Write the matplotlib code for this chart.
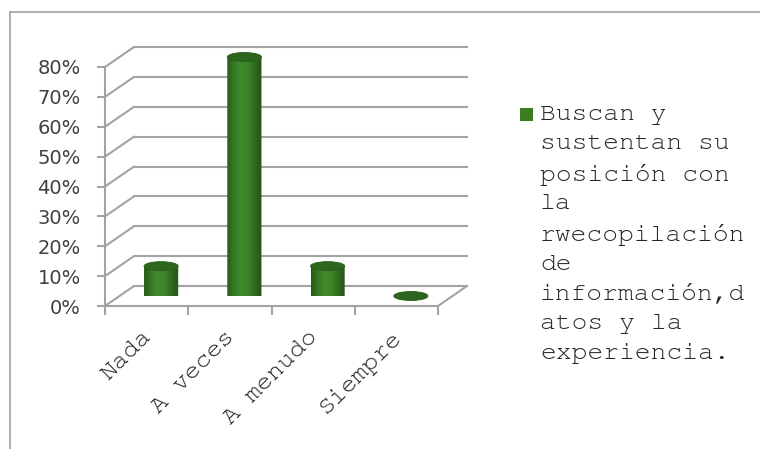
import numpy as np
import matplotlib
matplotlib.use('Agg')
import matplotlib.pyplot as plt
from matplotlib.patches import Ellipse, Rectangle, PathPatch, ConnectionPatch
from matplotlib.lines import Line2D
from matplotlib.path import Path
from matplotlib.colors import LinearSegmentedColormap
from matplotlib.transforms import ScaledTranslation

# data
categorias = ['Nada', 'A veces', 'A menudo', 'Siempre']
porcentajes = [10, 80, 10, 0]
ticks_y = [0, 10, 20, 30, 40, 50, 60, 70, 80]
etiquetas_y = [f'{t}%' for t in ticks_y]
serie = ('Buscan y\nsustentan su\nposición con\nla\nrwecopilación\nde\n'
         'información,d\natos y la\nexperiencia.')

mono = ['FreeMono', 'Liberation Mono', 'DejaVu Sans Mono']

W, H = 760, 449
fig = plt.figure(figsize=(W / 100, H / 100), dpi=100)

gris = '#a3a3a3'
x0, y0, ancho, alto = 105, 143, 333, 239   # front plane, pixels
dx, dy = 29, 20                              # depth offset, pixels


def plano(k, z):
    a = fig.add_axes([(x0 + k * dx) / W, (y0 + k * dy) / H, ancho / W, alto / H], zorder=z)
    a.set_xlim(0, len(categorias))
    a.set_ylim(0, 80)
    a.patch.set_visible(False)
    return a


ax_back = plano(1, 0)
ax = plano(0, 1)
ax_mid = plano(0.5, 2)

# back wall gridlines
ax_back.axis('off')
for t in ticks_y:
    ax_back.plot([0, len(categorias)], [t, t], color=gris, lw=1.5, clip_on=False)
    cp = ConnectionPatch(xyA=(0, t), xyB=(0, t), coordsA='data', coordsB='data',
                         axesA=ax, axesB=ax_back, color=gris, lw=1.5)
    cp.set_annotation_clip(False)
    ax_back.add_artist(cp)
cp = ConnectionPatch(xyA=(len(categorias), 0), xyB=(len(categorias), 0), coordsA='data',
                     coordsB='data', axesA=ax, axesB=ax_back, color=gris, lw=1.5)
cp.set_annotation_clip(False)
ax_back.add_artist(cp)

# front axes
for s in ['top', 'right']:
    ax.spines[s].set_visible(False)
for s in ['left', 'bottom']:
    ax.spines[s].set_color(gris)
    ax.spines[s].set_linewidth(1.5)
ax.set_yticks(ticks_y, etiquetas_y)
ax.tick_params(axis='y', length=5.5, width=1.5, color=gris, pad=12,
               labelsize=14, labelcolor='#404040')
ax.set_xticks(range(len(categorias) + 1), [''] * (len(categorias) + 1))
ax.set_xticks([i + 0.5 for i in range(len(categorias))], categorias, minor=True)
ax.tick_params(axis='x', which='minor', length=0, pad=15)
ax.tick_params(axis='x', which='major', length=6.5, width=1.5, color=gris)
desplaza = ScaledTranslation(-5 / 100, 0, fig.dpi_scale_trans)
for lab in ax.get_xticklabels(minor=True):
    lab.set_rotation(45)
    lab.set_ha('right')
    lab.set_va('top')
    lab.set_rotation_mode('anchor')
    lab.set_fontfamily(mono)
    lab.set_fontsize(18.5)
    lab.set_color('#262626')
    lab.set_transform(lab.get_transform() + desplaza)

# cylinders
ax_mid.axis('off')
bw, eh = 0.41, 3.0
cmap = LinearSegmentedColormap.from_list(
    'cil', ['#285a19', '#377a24', '#418c2c', '#3c8328', '#2e6a1e', '#255418'])
grad = np.linspace(0, 1, 64).reshape(1, -1)
for i, v in enumerate(porcentajes):
    xc = i + 0.5
    if v > 0:
        t = np.linspace(np.pi, 2 * np.pi, 50)
        verts = [(xc - bw / 2, v)] + list(zip(xc + bw / 2 * np.cos(t), eh / 2 * np.sin(t))) \
            + [(xc + bw / 2, v), (xc - bw / 2, v)]
        cuerpo = PathPatch(Path(verts, closed=True), transform=ax_mid.transData,
                           facecolor='none', edgecolor='none')
        ax_mid.add_patch(cuerpo)
        im = ax_mid.imshow(grad, extent=(xc - bw / 2, xc + bw / 2, -eh / 2, v),
                           aspect='auto', cmap=cmap, zorder=2, interpolation='bilinear')
        im.set_clip_path(cuerpo)
    ax_mid.add_patch(Ellipse((xc, v), bw, eh, facecolor='#2c671d',
                             edgecolor='#275c1a', lw=0.6, zorder=3, clip_on=False))
ax_mid.set_xlim(0, len(categorias))
ax_mid.set_ylim(0, 80)

# legend
fig.add_artist(Rectangle((520 / W, 328 / H), 13 / W, 13 / H, transform=fig.transFigure,
                         facecolor='#3c7d22', edgecolor='none'))
fig.text(540 / W, 1 - 105 / H, serie, ha='left', va='top', fontsize=19,
         family=mono, color='#262626', linespacing=1.58)

# outer border
fig.add_artist(Line2D([9.5 / W, 1], [1 - 11.5 / H, 1 - 11.5 / H], color=gris, lw=1.2))
fig.add_artist(Line2D([9.5 / W, 9.5 / W], [0, 1 - 11.5 / H], color=gris, lw=1.2))

fig.savefig('out.png', dpi=100)
